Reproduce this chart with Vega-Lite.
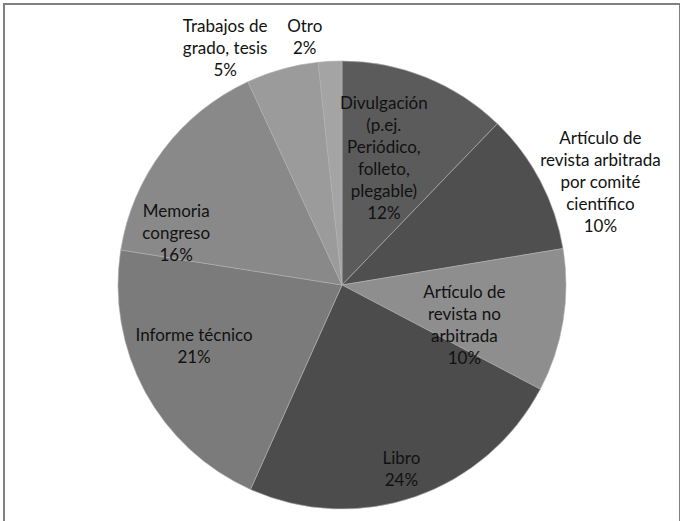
{
  "$schema": "https://vega.github.io/schema/vega-lite/v6.json",
  "width": 676,
  "height": 562,
  "autosize": "none",
  "padding": {"left": 4, "top": 4, "right": 0, "bottom": 0},
  "background": "white",
  "view": {"stroke": "#808080", "strokeWidth": 2, "fill": "white"},
  "data": {
    "values": [
      {"orden": 1, "cat": "Divulgación", "value": 12.2, "label": ["Divulgación", "(p.ej.", "Periódico,", "folleto,", "plegable)", "12%"]},
      {"orden": 2, "cat": "Artículo de revista arbitrada por comité científico", "value": 10.2, "label": ["Artículo de", "revista arbitrada", "por comité", "científico", "10%"]},
      {"orden": 3, "cat": "Artículo de revista no arbitrada", "value": 10.3, "label": ["Artículo de", "revista no", "arbitrada", "10%"]},
      {"orden": 4, "cat": "Libro", "value": 24.0, "label": ["Libro", "24%"]},
      {"orden": 5, "cat": "Informe técnico", "value": 20.8, "label": ["Informe técnico", "21%"]},
      {"orden": 6, "cat": "Memoria congreso", "value": 15.6, "label": ["Memoria", "congreso", "16%"]},
      {"orden": 7, "cat": "Trabajos de grado, tesis", "value": 5.2, "label": ["Trabajos de", "grado, tesis", "5%"]},
      {"orden": 8, "cat": "Otro", "value": 1.7, "label": ["Otro", "2%"]}
    ]
  },
  "encoding": {
    "theta": {"field": "value", "type": "quantitative", "stack": true},
    "order": {"field": "orden", "type": "quantitative"}
  },
  "layer": [
    {
      "mark": {"type": "arc", "outerRadius": 224, "stroke": "#b0b0b0", "strokeWidth": 0.6},
      "encoding": {
        "color": {
          "field": "cat",
          "type": "nominal",
          "legend": null,
          "sort": null,
          "scale": {
            "domain": ["Divulgación", "Artículo de revista arbitrada por comité científico", "Artículo de revista no arbitrada", "Libro", "Informe técnico", "Memoria congreso", "Trabajos de grado, tesis", "Otro"],
            "range": ["#5b5b5b", "#4f4f4f", "#8e8e8e", "#4c4c4c", "#7b7b7b", "#898989", "#9b9b9b", "#a4a4a4"]
          }
        }
      }
    },
    {
      "mark": {"type": "text", "radius": 128, "dx": -6, "dy": -57, "font": "Lato", "fontSize": 17, "lineHeight": 22, "align": "center", "baseline": "alphabetic", "color": "#111111"},
      "encoding": {"text": {"condition": {"test": "datum.orden === 1", "field": "label"}, "value": ""}}
    },
    {
      "mark": {"type": "text", "radius": 284, "dx": 7, "dy": -9, "font": "Lato", "fontSize": 17, "lineHeight": 22, "align": "center", "baseline": "alphabetic", "color": "#111111"},
      "encoding": {"text": {"condition": {"test": "datum.orden === 2", "field": "label"}, "value": ""}}
    },
    {
      "mark": {"type": "text", "radius": 127, "dx": -3, "dy": -7, "font": "Lato", "fontSize": 17, "lineHeight": 22, "align": "center", "baseline": "alphabetic", "color": "#111111"},
      "encoding": {"text": {"condition": {"test": "datum.orden === 3", "field": "label"}, "value": ""}}
    },
    {
      "mark": {"type": "text", "radius": 191, "dx": -3, "dy": -2, "font": "Lato", "fontSize": 17, "lineHeight": 22, "align": "center", "baseline": "alphabetic", "color": "#111111"},
      "encoding": {"text": {"condition": {"test": "datum.orden === 4", "field": "label"}, "value": ""}}
    },
    {
      "mark": {"type": "text", "radius": 158, "dx": -9, "dy": -19, "font": "Lato", "fontSize": 17, "lineHeight": 22, "align": "center", "baseline": "alphabetic", "color": "#111111"},
      "encoding": {"text": {"condition": {"test": "datum.orden === 5", "field": "label"}, "value": ""}}
    },
    {
      "mark": {"type": "text", "radius": 164, "dx": -35, "dy": 31, "font": "Lato", "fontSize": 17, "lineHeight": 22, "align": "center", "baseline": "alphabetic", "color": "#111111"},
      "encoding": {"text": {"condition": {"test": "datum.orden === 6", "field": "label"}, "value": ""}}
    },
    {
      "mark": {"type": "text", "radius": 258, "dx": -48, "dy": -4, "font": "Lato", "fontSize": 17, "lineHeight": 22, "align": "center", "baseline": "alphabetic", "color": "#111111"},
      "encoding": {"text": {"condition": {"test": "datum.orden === 7", "field": "label"}, "value": ""}}
    },
    {
      "mark": {"type": "text", "radius": 248, "dx": -24, "dy": -5, "font": "Lato", "fontSize": 17, "lineHeight": 22, "align": "center", "baseline": "alphabetic", "color": "#111111"},
      "encoding": {"text": {"condition": {"test": "datum.orden === 8", "field": "label"}, "value": ""}}
    }
  ]
}
